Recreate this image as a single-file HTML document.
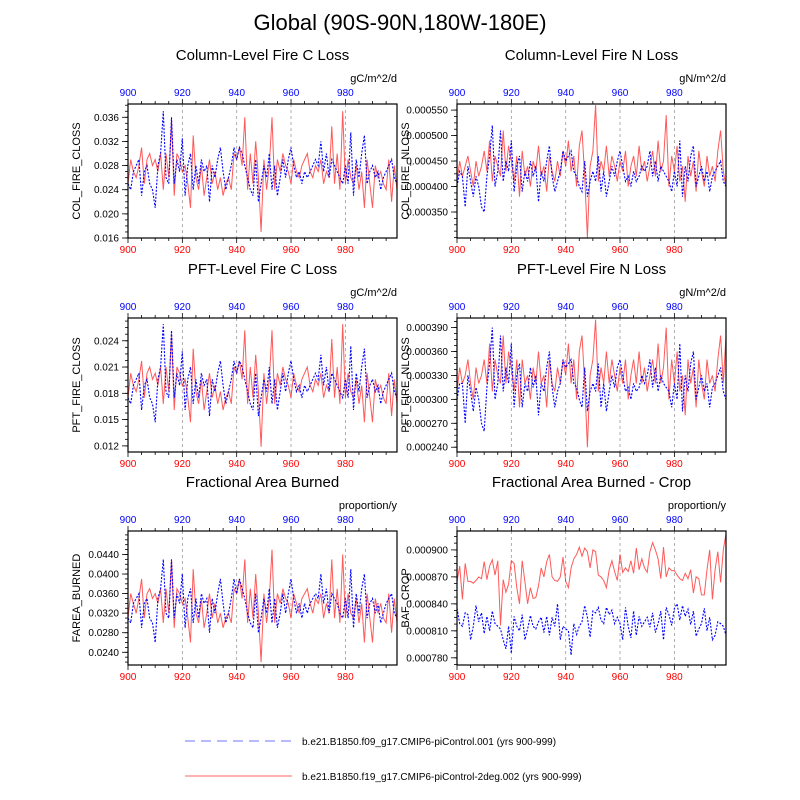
<!DOCTYPE html>
<html><head><meta charset="utf-8"><style>
html,body{margin:0;padding:0;background:#fff;}
svg{display:block;font-family:"Liberation Sans",sans-serif;}
</style></head><body>
<svg id="chart" width="800" height="800" viewBox="0 0 800 800">
<text x="400" y="30" font-size="22" text-anchor="middle">Global (90S-90N,180W-180E)</text>
<g>
<line x1="185" y1="741" x2="292" y2="741" stroke="#00f" stroke-width="1" stroke-dasharray="10,6" stroke-opacity="0.55"/>
<text x="302" y="745" font-size="10">b.e21.B1850.f09_g17.CMIP6-piControl.001 (yrs 900-999)</text>
<line x1="185" y1="776" x2="292" y2="776" stroke="#f00" stroke-width="1" stroke-opacity="0.6"/>
<text x="302" y="780" font-size="10">b.e21.B1850.f19_g17.CMIP6-piControl-2deg.002 (yrs 900-999)</text>
</g>
</svg>
<script>
const years = []; for (let i = 0; i < 100; i++) years.push(900 + i);
const xTicks = [900, 920, 940, 960, 980];

const p1Red = [.025,.029,.027,.026,.028,.031,.025,.029,.030,.028,.029,.027,.030,.024,.030,.026,.0355,.023,.030,.029,.027,.028,.025,.021,.033,.026,.024,.028,.023,.026,.029,.025,.027,.024,.026,.023,.025,.026,.024,.030,.029,.031,.028,.036,.024,.030,.025,.032,.026,.017,.029,.024,.028,.036,.024,.029,.027,.030,.028,.027,.025,.029,.027,.026,.028,.029,.030,.027,.026,.028,.027,.029,.025,.027,.026,.0345,.025,.030,.024,.037,.025,.029,.026,.025,.028,.024,.027,.021,.029,.025,.021,.028,.026,.027,.025,.024,.029,.022,.028,.024];
const p1Blue = [.025,.024,.027,.028,.029,.023,.027,.028,.025,.024,.021,.028,.030,.037,.026,.025,.036,.025,.029,.027,.0325,.023,.028,.030,.024,.028,.025,.029,.027,.028,.022,.028,.026,.029,.031,.027,.024,.026,.028,.031,.029,.031,.030,.028,.026,.024,.023,.029,.022,.025,.028,.026,.030,.024,.028,.023,.026,.029,.026,.029,.031,.028,.026,.027,.025,.027,.026,.027,.028,.029,.028,.032,.027,.030,.026,.029,.028,.027,.026,.025,.028,.025,.0335,.023,.029,.026,.030,.033,.025,.027,.028,.026,.027,.024,.026,.027,.028,.029,.026,.025];
const p1Ticks = [0.016,0.020,0.024,0.028,0.032,0.036];

const p2Red = [4.1e-4,4.5e-4,4.2e-4,4.4e-4,4.6e-4,4.3e-4,4.0e-4,4.5e-4,4.2e-4,4.4e-4,4.7e-4,4.3e-4,4.9e-4,4.1e-4,4.6e-4,4.4e-4,4.2e-4,5.1e-4,4.3e-4,4.8e-4,4.5e-4,4.1e-4,4.6e-4,3.8e-4,4.7e-4,4.2e-4,4.4e-4,4.0e-4,4.5e-4,4.3e-4,4.8e-4,4.2e-4,4.4e-4,3.9e-4,4.6e-4,4.3e-4,4.1e-4,4.5e-4,4.2e-4,4.7e-4,4.4e-4,4.9e-4,4.3e-4,4.6e-4,4.0e-4,4.8e-4,5.1e-4,4.2e-4,3.0e-4,4.4e-4,4.7e-4,5.6e-4,4.1e-4,4.5e-4,4.3e-4,4.8e-4,4.2e-4,4.6e-4,4.4e-4,4.1e-4,4.5e-4,4.3e-4,4.7e-4,4.0e-4,4.4e-4,4.6e-4,4.2e-4,4.8e-4,4.3e-4,4.5e-4,4.1e-4,4.4e-4,4.7e-4,4.2e-4,4.9e-4,4.3e-4,4.5e-4,5.4e-4,4.0e-4,4.6e-4,4.3e-4,4.8e-4,4.1e-4,4.4e-4,3.7e-4,4.6e-4,4.2e-4,4.5e-4,3.9e-4,4.7e-4,4.3e-4,4.0e-4,4.6e-4,4.2e-4,4.4e-4,4.1e-4,4.7e-4,5.1e-4,4.3e-4,4.0e-4];
const p2Blue = [4.0e-4,4.3e-4,4.2e-4,3.6e-4,4.4e-4,4.1e-4,3.8e-4,4.2e-4,4.0e-4,3.6e-4,3.5e-4,4.2e-4,4.6e-4,5.2e-4,4.0e-4,4.3e-4,5.1e-4,4.1e-4,4.5e-4,4.3e-4,4.9e-4,3.9e-4,4.4e-4,4.6e-4,3.9e-4,4.3e-4,4.1e-4,4.5e-4,4.2e-4,4.4e-4,3.7e-4,4.3e-4,4.1e-4,4.5e-4,4.8e-4,4.2e-4,3.9e-4,4.1e-4,4.3e-4,4.7e-4,4.5e-4,4.6e-4,4.7e-4,4.3e-4,4.2e-4,4.0e-4,3.9e-4,4.5e-4,3.8e-4,4.1e-4,4.3e-4,4.1e-4,4.6e-4,3.9e-4,4.3e-4,3.8e-4,4.1e-4,4.4e-4,4.2e-4,4.5e-4,4.7e-4,4.4e-4,4.1e-4,4.2e-4,4.0e-4,4.3e-4,4.1e-4,4.2e-4,4.4e-4,4.3e-4,4.4e-4,4.7e-4,4.2e-4,4.5e-4,4.1e-4,4.4e-4,4.3e-4,4.2e-4,4.1e-4,3.9e-4,4.3e-4,4.0e-4,4.9e-4,3.8e-4,4.4e-4,4.1e-4,4.6e-4,4.8e-4,4.0e-4,4.2e-4,4.4e-4,4.1e-4,4.3e-4,3.9e-4,4.2e-4,4.3e-4,4.4e-4,4.5e-4,4.1e-4,4.0e-4];
const p2Ticks = [0.00035,0.0004,0.00045,0.0005,0.00055];

const p3Red = [.0175,.0203,.0189,.0182,.0196,.0217,.0175,.0203,.021,.0196,.0203,.0189,.021,.0168,.021,.0182,.0249,.0161,.021,.0203,.0189,.0196,.0175,.0147,.0231,.0182,.0168,.0196,.0161,.0182,.0203,.0175,.0189,.0168,.0182,.0161,.0175,.0182,.0168,.021,.0203,.0217,.0196,.0252,.0168,.021,.0175,.0224,.0182,.0119,.0203,.0168,.0196,.0252,.0168,.0203,.0189,.021,.0196,.0189,.0175,.0203,.0189,.0182,.0196,.0203,.021,.0189,.0182,.0196,.0189,.0203,.0175,.0189,.0182,.0242,.0175,.021,.0168,.0259,.0175,.0203,.0182,.0175,.0196,.0168,.0189,.0147,.0203,.0175,.0147,.0196,.0182,.0189,.0175,.0168,.0203,.0154,.0196,.0168];
const p3Blue = [.0175,.0168,.0189,.0196,.0203,.0161,.0189,.0196,.0175,.0168,.0147,.0196,.021,.0259,.0182,.0175,.0252,.0175,.0203,.0189,.0228,.0161,.0196,.021,.0168,.0196,.0175,.0203,.0189,.0196,.0154,.0196,.0182,.0203,.0217,.0189,.0168,.0182,.0196,.0217,.0203,.0217,.021,.0196,.0182,.0168,.0161,.0203,.0154,.0175,.0196,.0182,.021,.0168,.0196,.0161,.0182,.0203,.0182,.0203,.0217,.0196,.0182,.0189,.0175,.0189,.0182,.0189,.0196,.0203,.0196,.0224,.0189,.021,.0182,.0203,.0196,.0189,.0182,.0175,.0196,.0175,.0234,.0161,.0203,.0182,.021,.0231,.0175,.0189,.0196,.0182,.0189,.0168,.0182,.0189,.0196,.0203,.0182,.0175];
const p3Ticks = [0.012,0.015,0.018,0.021,0.024];

const p4Red = [3.1e-4,3.4e-4,3.2e-4,3.3e-4,3.5e-4,3.2e-4,3.0e-4,3.4e-4,3.2e-4,3.3e-4,3.5e-4,3.2e-4,3.7e-4,3.1e-4,3.5e-4,3.3e-4,3.2e-4,3.8e-4,3.2e-4,3.6e-4,3.4e-4,3.1e-4,3.5e-4,2.9e-4,3.5e-4,3.2e-4,3.3e-4,3.0e-4,3.4e-4,3.2e-4,3.6e-4,3.2e-4,3.3e-4,2.9e-4,3.5e-4,3.2e-4,3.1e-4,3.4e-4,3.2e-4,3.5e-4,3.3e-4,3.7e-4,3.2e-4,3.5e-4,3.0e-4,3.6e-4,3.8e-4,3.2e-4,2.4e-4,3.3e-4,3.5e-4,4.0e-4,3.1e-4,3.4e-4,3.2e-4,3.6e-4,3.2e-4,3.5e-4,3.3e-4,3.1e-4,3.4e-4,3.2e-4,3.5e-4,3.0e-4,3.3e-4,3.5e-4,3.2e-4,3.6e-4,3.2e-4,3.4e-4,3.1e-4,3.3e-4,3.5e-4,3.2e-4,3.7e-4,3.2e-4,3.4e-4,3.9e-4,3.0e-4,3.5e-4,3.2e-4,3.6e-4,3.1e-4,3.3e-4,2.8e-4,3.5e-4,3.2e-4,3.4e-4,2.9e-4,3.5e-4,3.2e-4,3.0e-4,3.5e-4,3.2e-4,3.3e-4,3.1e-4,3.5e-4,3.8e-4,3.2e-4,3.8e-4];
const p4Blue = [3.0e-4,3.2e-4,3.2e-4,2.7e-4,3.3e-4,3.1e-4,2.85e-4,3.15e-4,3.0e-4,2.7e-4,2.6e-4,3.15e-4,3.45e-4,3.9e-4,3.0e-4,3.2e-4,3.8e-4,3.1e-4,3.4e-4,3.2e-4,3.7e-4,2.9e-4,3.3e-4,3.45e-4,2.9e-4,3.2e-4,3.1e-4,3.4e-4,3.15e-4,3.3e-4,2.8e-4,3.2e-4,3.1e-4,3.4e-4,3.6e-4,3.15e-4,2.9e-4,3.1e-4,3.2e-4,3.5e-4,3.4e-4,3.45e-4,3.5e-4,3.2e-4,3.15e-4,3.0e-4,2.9e-4,3.4e-4,2.85e-4,3.1e-4,3.2e-4,3.1e-4,3.45e-4,2.9e-4,3.2e-4,2.85e-4,3.1e-4,3.3e-4,3.15e-4,3.4e-4,3.5e-4,3.3e-4,3.1e-4,3.15e-4,3.0e-4,3.2e-4,3.1e-4,3.15e-4,3.3e-4,3.2e-4,3.3e-4,3.5e-4,3.15e-4,3.4e-4,3.1e-4,3.3e-4,3.2e-4,3.15e-4,3.1e-4,2.9e-4,3.2e-4,3.0e-4,3.7e-4,2.85e-4,3.3e-4,3.1e-4,3.45e-4,3.6e-4,3.0e-4,3.15e-4,3.3e-4,3.1e-4,3.2e-4,2.9e-4,3.15e-4,3.2e-4,3.3e-4,3.4e-4,3.1e-4,3.0e-4];
const p4Ticks = [0.00024,0.00027,0.0003,0.00033,0.00036,0.00039];

const p5Red = [.031,.036,.034,.032,.035,.039,.031,.036,.037,.035,.036,.034,.037,.030,.037,.032,.043,.029,.037,.036,.034,.035,.031,.026,.041,.032,.030,.035,.029,.032,.036,.031,.034,.030,.032,.029,.031,.032,.030,.037,.036,.039,.035,.043,.030,.037,.031,.040,.032,.022,.036,.030,.035,.045,.030,.036,.034,.037,.035,.034,.031,.036,.034,.032,.035,.036,.037,.034,.032,.035,.034,.036,.031,.034,.032,.043,.031,.037,.030,.044,.031,.036,.032,.031,.035,.030,.034,.026,.036,.031,.026,.035,.032,.034,.031,.030,.036,.028,.035,.030];
const p5Blue = [.031,.030,.034,.035,.036,.029,.034,.035,.031,.030,.026,.035,.037,.043,.032,.031,.043,.031,.036,.034,.040,.029,.035,.037,.030,.035,.031,.036,.034,.035,.028,.035,.032,.036,.039,.034,.030,.032,.035,.039,.036,.039,.037,.035,.032,.030,.029,.036,.028,.031,.035,.032,.037,.030,.035,.029,.032,.036,.032,.036,.039,.035,.032,.034,.031,.034,.032,.034,.035,.036,.035,.040,.034,.037,.032,.036,.035,.034,.032,.031,.035,.031,.041,.029,.036,.032,.037,.040,.031,.034,.035,.032,.034,.030,.032,.034,.035,.036,.032,.031];
const p5Ticks = [0.024,0.028,0.032,0.036,0.040,0.044];

const p6Red = [865e-6,882e-6,845e-6,885e-6,865e-6,865e-6,863e-6,866e-6,870e-6,868e-6,887e-6,867e-6,882e-6,889e-6,872e-6,888e-6,816e-6,867e-6,853e-6,862e-6,888e-6,885e-6,858e-6,840e-6,888e-6,865e-6,840e-6,858e-6,846e-6,847e-6,860e-6,880e-6,870e-6,887e-6,895e-6,870e-6,866e-6,865e-6,870e-6,892e-6,865e-6,858e-6,880e-6,890e-6,895e-6,903e-6,893e-6,902e-6,898e-6,880e-6,900e-6,898e-6,872e-6,870e-6,866e-6,858e-6,878e-6,888e-6,876e-6,866e-6,895e-6,875e-6,880e-6,876e-6,888e-6,874e-6,902e-6,878e-6,890e-6,880e-6,875e-6,898e-6,908e-6,900e-6,890e-6,868e-6,903e-6,870e-6,880e-6,877e-6,877e-6,872e-6,868e-6,866e-6,874e-6,868e-6,878e-6,852e-6,870e-6,868e-6,850e-6,850e-6,878e-6,900e-6,845e-6,878e-6,898e-6,864e-6,900e-6,918e-6];
const p6Blue = [835e-6,818e-6,815e-6,830e-6,828e-6,800e-6,815e-6,838e-6,820e-6,830e-6,807e-6,826e-6,810e-6,832e-6,818e-6,815e-6,812e-6,800e-6,790e-6,815e-6,785e-6,826e-6,815e-6,810e-6,828e-6,800e-6,812e-6,827e-6,815e-6,812e-6,820e-6,825e-6,808e-6,826e-6,805e-6,825e-6,815e-6,840e-6,800e-6,815e-6,812e-6,810e-6,783e-6,818e-6,806e-6,815e-6,820e-6,838e-6,825e-6,803e-6,832e-6,830e-6,836e-6,822e-6,818e-6,836e-6,828e-6,833e-6,818e-6,825e-6,818e-6,800e-6,836e-6,815e-6,802e-6,832e-6,805e-6,826e-6,815e-6,820e-6,825e-6,814e-6,830e-6,808e-6,818e-6,832e-6,800e-6,836e-6,828e-6,816e-6,835e-6,840e-6,822e-6,838e-6,826e-6,834e-6,817e-6,832e-6,804e-6,812e-6,818e-6,835e-6,810e-6,825e-6,800e-6,805e-6,820e-6,818e-6,815e-6,805e-6];
const p6Ticks = [0.00078,0.00081,0.00084,0.00087,0.0009];

const NS = "http://www.w3.org/2000/svg";
const svg = document.getElementById('chart');
function mk(tag, attrs, parent) {
  const e = document.createElementNS(NS, tag);
  for (const k in attrs) e.setAttribute(k, attrs[k]);
  parent.appendChild(e);
  return e;
}

const panels = [
  {key:'col-fire-c', title:'Column-Level Fire C Loss', units:'gC/m^2/d', ytitle:'COL_FIRE_CLOSS', left:128, top:104, ymin:0.0162-0.0002, ymax:0.0382, ticks:p1Ticks, dec:3, red:p1Red, blue:p1Blue},
  {key:'col-fire-n', title:'Column-Level Fire N Loss', units:'gN/m^2/d', ytitle:'COL_FIRE_NLOSS', left:457, top:104, ymin:0.000299, ymax:0.000562, ticks:p2Ticks, dec:6, red:p2Red, blue:p2Blue},
  {key:'pft-fire-c', title:'PFT-Level Fire C Loss', units:'gC/m^2/d', ytitle:'PFT_FIRE_CLOSS', left:128, top:318, ymin:0.0113, ymax:0.0266, ticks:p3Ticks, dec:3, red:p3Red, blue:p3Blue},
  {key:'pft-fire-n', title:'PFT-Level Fire N Loss', units:'gN/m^2/d', ytitle:'PFT_FIRE_NLOSS', left:457, top:318, ymin:0.000234, ymax:0.000402, ticks:p4Ticks, dec:6, red:p4Red, blue:p4Blue},
  {key:'farea-burned', title:'Fractional Area Burned', units:'proportion/y', ytitle:'FAREA_BURNED', left:128, top:531, ymin:0.0214, ymax:0.0488, ticks:p5Ticks, dec:4, red:p5Red, blue:p5Blue},
  {key:'baf-crop', title:'Fractional Area Burned - Crop', units:'proportion/y', ytitle:'BAF_CROP', left:457, top:531, ymin:0.000772, ymax:0.000921, ticks:p6Ticks, dec:6, red:p6Red, blue:p6Blue}
];
const W = 269, H = 134;

panels.forEach(p => {
  const g = mk('g', {}, svg);
  
  
  const xs = v => p.left + (v - 900) / 99 * W;
  const ys = v => p.top + H - (v - p.ymin) / (p.ymax - p.ymin) * H;
  const cx = p.left + W / 2;

  const t = mk('text', {x: cx, y: p.top - 44, 'font-size': 15, 'text-anchor': 'middle'}, g);
  t.textContent = p.title;
  
  
  const u = mk('text', {x: p.left + W, y: p.top - 22, 'font-size': 11, 'text-anchor': 'end'}, g);
  u.textContent = p.units;
  
  

  // grid lines
  xTicks.slice(1).forEach(v => {
    const l = mk('line', {x1: xs(v), x2: xs(v), y1: p.top, y2: p.top + H, stroke: '#999', 'stroke-width': 0.8, 'stroke-dasharray': '3,3'}, g);
    
    
  });

  // x ticks
  for (let v = 900; v <= 995; v += 5) {
    const major = v % 20 === 0;
    const len = major ? 5 : 3;
    mk('line', {x1: xs(v), x2: xs(v), y1: p.top, y2: p.top - len, stroke: '#000', 'stroke-width': 0.8}, g);
    mk('line', {x1: xs(v), x2: xs(v), y1: p.top + H, y2: p.top + H + len, stroke: '#000', 'stroke-width': 0.8}, g);
  }
  xTicks.forEach(v => {
    const a = mk('text', {x: xs(v), y: p.top - 8, 'font-size': 10, fill: '#00f', 'text-anchor': 'middle'}, g);
    a.textContent = v;
    
    
    const b = mk('text', {x: xs(v), y: p.top + H + 15, 'font-size': 10, fill: '#f00', 'text-anchor': 'middle'}, g);
    b.textContent = v;
    
    
  });

  // y ticks
  const step = p.ticks[1] - p.ticks[0];
  for (let v = p.ticks[0] - step; v <= p.ymax + 1e-12; v += step / 4) {
    if (v < p.ymin) continue;
    mk('line', {x1: p.left, x2: p.left - 3, y1: ys(v), y2: ys(v), stroke: '#000', 'stroke-width': 0.8}, g);
  }
  p.ticks.forEach(v => {
    mk('line', {x1: p.left, x2: p.left - 6, y1: ys(v), y2: ys(v), stroke: '#000', 'stroke-width': 0.8}, g);
    const tl = mk('text', {x: p.left - 9, y: ys(v) + 3.5, 'font-size': 10, 'text-anchor': 'end'}, g);
    tl.textContent = v.toFixed(p.dec);
    
    
  });
  const yt = mk('text', {x: 0, y: 0, 'font-size': 11, 'text-anchor': 'middle', transform: `translate(${p.left - 48},${p.top + H / 2}) rotate(-90)`}, g);
  yt.textContent = p.ytitle;
  
  

  const clipId = 'clip-' + p.key;
  const cp = mk('clipPath', {id: clipId}, g);
  mk('rect', {x: p.left, y: p.top, width: W, height: H}, cp);

  const redPts = p.red.map((v, i) => xs(years[i]).toFixed(1) + ',' + ys(v).toFixed(1)).join(' ');
  const rl = mk('polyline', {points: redPts, fill: 'none', stroke: '#f00', 'stroke-opacity': 0.65, 'stroke-width': 1, 'clip-path': `url(#${clipId})`}, g);
  
  
  const bluePts = p.blue.map((v, i) => xs(years[i]).toFixed(1) + ',' + ys(v).toFixed(1)).join(' ');
  const bl = mk('polyline', {points: bluePts, fill: 'none', stroke: '#00f', 'stroke-width': 1.1, 'stroke-dasharray': '2,1.5', 'clip-path': `url(#${clipId})`}, g);
  
  

  const fr = mk('rect', {x: p.left, y: p.top, width: W, height: H, fill: 'none', stroke: '#000', 'stroke-width': 1.2}, g);
  
  
});
</script>
</body></html>
